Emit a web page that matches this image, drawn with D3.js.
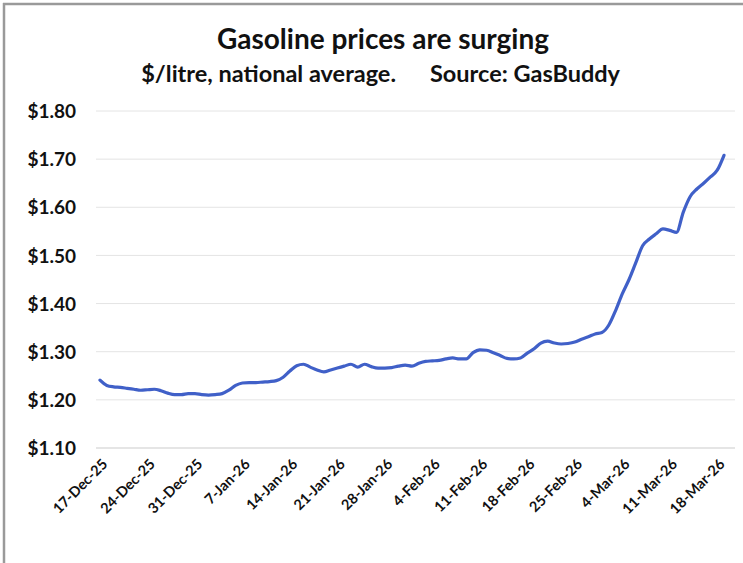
<!DOCTYPE html>
<html>
<head>
<meta charset="utf-8">
<script src="https://cdn.jsdelivr.net/npm/d3@7"></script>
<style>
  html, body { margin: 0; padding: 0; background: #ffffff; }
  svg { display: block; }
  text { font-family: Lato, "Open Sans", sans-serif; fill: #111; }
</style>
</head>
<body>
<svg id="chart" width="743" height="563"></svg>
<script>
// Daily national average gasoline price ($/litre), starting 17-Dec-25
const startDate = "17-Dec-25";
const prices = [
  1.241, 1.230, 1.227, 1.226, 1.224, 1.222, 1.220, 1.221, 1.222, 1.219,
  1.214, 1.211, 1.211, 1.213, 1.213, 1.211, 1.210, 1.211, 1.213, 1.220,
  1.230, 1.235, 1.236, 1.236, 1.237, 1.238, 1.240, 1.247, 1.260, 1.271,
  1.274, 1.268, 1.262, 1.258, 1.262, 1.266, 1.270, 1.274, 1.268, 1.274,
  1.269, 1.266, 1.266, 1.267, 1.270, 1.272, 1.270, 1.276, 1.280, 1.281,
  1.282, 1.285, 1.287, 1.285, 1.285, 1.298, 1.304, 1.303, 1.298, 1.292,
  1.286, 1.285, 1.287, 1.297, 1.306, 1.318, 1.322, 1.318, 1.316, 1.317,
  1.320, 1.326, 1.331, 1.337, 1.340, 1.355, 1.385, 1.420, 1.450, 1.485,
  1.520, 1.534, 1.545, 1.555, 1.552, 1.548, 1.590, 1.622, 1.638, 1.650,
  1.663, 1.677, 1.708
];
const xTickLabels = [
  "17-Dec-25", "24-Dec-25", "31-Dec-25", "7-Jan-26", "14-Jan-26", "21-Jan-26",
  "28-Jan-26", "4-Feb-26", "11-Feb-26", "18-Feb-26", "25-Feb-26", "4-Mar-26",
  "11-Mar-26", "18-Mar-26"
];
const yTicks = [1.10, 1.20, 1.30, 1.40, 1.50, 1.60, 1.70, 1.80];
const title = "Gasoline prices are surging";
const subtitleUnits = "$/litre, national average.";
const subtitleSource = "Source: GasBuddy";

const parseDate = d3.timeParse("%d-%b-%y");
const start = parseDate(startDate);
const series = prices.map((v, i) => ({ date: d3.timeDay.offset(start, i), value: v }));
const tickDates = xTickLabels.map(parseDate);

const svg = d3.select("#chart");

// frame edges
svg.append("line").attr("x1", 4).attr("x2", 4).attr("y1", 3).attr("y2", 563)
  .attr("stroke", "#9a9a9a").attr("stroke-width", 2.5);
svg.append("line").attr("x1", 3).attr("x2", 743).attr("y1", 4).attr("y2", 4)
  .attr("stroke", "#9a9a9a").attr("stroke-width", 2.5);

const plot = { left: 100, right: 724, top: 111, bottom: 448 };

const x = d3.scaleTime()
  .domain([series[0].date, series[series.length - 1].date])
  .range([plot.left, plot.right]);
const y = d3.scaleLinear()
  .domain([1.10, 1.80])
  .range([plot.bottom, plot.top]);

// titles
svg.append("text").attr("x", 383).attr("y", 49)
  .attr("text-anchor", "middle").attr("font-size", 28).attr("font-weight", 700)
  .text(title);
svg.append("text").attr("x", 396).attr("y", 82)
  .attr("text-anchor", "end").attr("font-size", 23.5).attr("font-weight", 700)
  .text(subtitleUnits);
svg.append("text").attr("x", 430).attr("y", 82)
  .attr("text-anchor", "start").attr("font-size", 23.5).attr("font-weight", 700)
  .text(subtitleSource);

// horizontal gridlines
svg.append("g")
  .selectAll("line")
  .data(yTicks.filter(t => t > 1.10))
  .join("line")
  .attr("x1", 96).attr("x2", 735)
  .attr("y1", d => y(d)).attr("y2", d => y(d))
  .attr("stroke", "#e4e4e4").attr("stroke-width", 1);

// y axis labels
const yAxis = d3.axisLeft(y)
  .tickValues(yTicks)
  .tickFormat(d => "$" + d.toFixed(2))
  .tickSize(0).tickPadding(0);
const yg = svg.append("g").attr("transform", "translate(76,0)").call(yAxis);
yg.select(".domain").remove();
yg.selectAll("text")
  .attr("font-size", 19).attr("font-weight", 700)
  .attr("font-family", "Lato, sans-serif").attr("fill", "#111")
  .attr("dy", "0.35em");

// x axis baseline
svg.append("line").attr("x1", 96).attr("x2", 735)
  .attr("y1", y(1.10)).attr("y2", y(1.10))
  .attr("stroke", "#dcdcdc").attr("stroke-width", 1.5);

// x axis labels, rotated
const xAxis = d3.axisBottom(x)
  .tickValues(tickDates)
  .tickFormat((d, i) => xTickLabels[i])
  .tickSize(0).tickPadding(0);
const xg = svg.append("g").attr("transform", `translate(0,${plot.bottom})`).call(xAxis);
xg.select(".domain").remove();
xg.selectAll("text")
  .attr("font-size", 14.5).attr("font-weight", 700)
  .attr("font-family", "Lato, sans-serif").attr("fill", "#111")
  .attr("text-anchor", "end")
  .attr("dy", null).attr("y", 0)
  .attr("transform", "translate(8,17) rotate(-45)");

// price line
const line = d3.line()
  .x(d => x(d.date))
  .y(d => y(d.value))
  .curve(d3.curveMonotoneX);
svg.append("path")
  .datum(series)
  .attr("fill", "none")
  .attr("stroke", "#4060c8")
  .attr("stroke-width", 3.2)
  .attr("stroke-linejoin", "round")
  .attr("stroke-linecap", "round")
  .attr("d", line);
</script>
</body>
</html>
